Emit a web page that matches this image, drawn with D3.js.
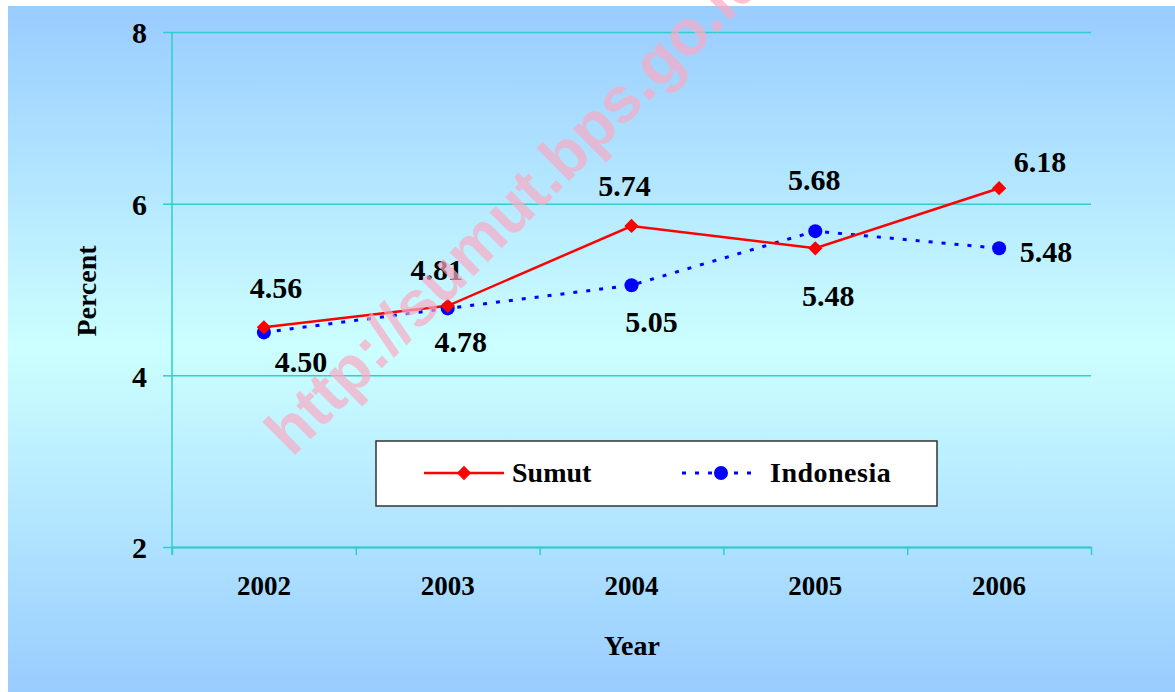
<!DOCTYPE html>
<html>
<head>
<meta charset="utf-8">
<script src="https://cdn.jsdelivr.net/npm/d3@7"></script>
<style>
  body { margin: 0; background: #fff; }
  text { font-family: "Liberation Serif", "Times New Roman", serif; font-weight: bold; }
</style>
</head>
<body>
<div id="chart"></div>
<script>
// data
var years = ["2002", "2003", "2004", "2005", "2006"];
var sumut = [4.56, 4.81, 5.74, 5.48, 6.18];
var indonesia = [4.50, 4.78, 5.05, 5.68, 5.48];
var yTicks = [2, 4, 6, 8];

// label placement relative to each point (dx, dy to baseline)
var sumutLabelPos = [[12, -29], [-11, -26], [-7, -30], [13, 58], [41, -16]];
var indoLabelPos = [[37, 40], [13, 44], [20, 47], [-1, -41], [47, 14]];

var svgWidth = 1175, svgHeight = 692;
var plotLeft = 172, plotRight = 1091, plotTop = 32, plotBottom = 547;

var svg = d3.select("#chart")
  .append("svg")
    .attr("width", svgWidth)
    .attr("height", svgHeight);

// background gradient
var grad = svg.append("defs").append("linearGradient")
  .attr("id", "bg").attr("x1", 0).attr("y1", 0).attr("x2", 0).attr("y2", 1);
grad.append("stop").attr("offset", "0%").attr("stop-color", "#99CCFF");
grad.append("stop").attr("offset", "50%").attr("stop-color", "#CCFFFF");
grad.append("stop").attr("offset", "100%").attr("stop-color", "#99CCFF");

svg.append("rect")
  .attr("x", 8).attr("y", 6)
  .attr("width", svgWidth - 8).attr("height", svgHeight - 6)
  .style("fill", "url(#bg)");

var x = d3.scaleBand().domain(years).range([plotLeft, plotRight]);
var xEdge = d3.scaleLinear().domain([0, years.length]).range([plotLeft, plotRight]);
var y = d3.scaleLinear().domain([2, 8]).range([plotBottom, plotTop]);

var axisColor = "#33CCCC";

// horizontal gridlines
var grid = svg.append("g")
  .attr("transform", "translate(" + plotLeft + ",0)")
  .call(d3.axisLeft(y).tickValues(yTicks).tickSize(-(plotRight - plotLeft)).tickFormat(""));
grid.select(".domain").remove();
grid.selectAll("line").style("stroke", axisColor).style("stroke-width", 1.5);

// y axis
var yAxis = svg.append("g")
  .attr("transform", "translate(" + plotLeft + ",0)")
  .call(d3.axisLeft(y).tickValues(yTicks).tickFormat(d3.format("d"))
    .tickSize(9).tickPadding(16).tickSizeOuter(0));
yAxis.select(".domain").style("stroke", axisColor).style("stroke-width", 1.5)
  .attr("d", "M0," + plotTop + "V" + (plotBottom + 8));
yAxis.selectAll("line").style("stroke", axisColor).style("stroke-width", 1.5);
yAxis.selectAll("text")
  .style("font-size", "30px")
  .style("fill", "#000")
  .attr("dy", "0.36em");

// x axis: tick marks at category edges
var xTickAxis = svg.append("g")
  .attr("transform", "translate(0," + plotBottom + ")")
  .call(d3.axisBottom(xEdge).tickValues(d3.range(years.length + 1)).tickSize(8).tickSizeOuter(0).tickFormat(""));
xTickAxis.select(".domain").style("stroke", axisColor).style("stroke-width", 2);
xTickAxis.selectAll("line").style("stroke", axisColor).style("stroke-width", 1.5);

// x labels
var xAxis = svg.append("g")
  .attr("transform", "translate(0," + plotBottom + ")")
  .call(d3.axisBottom(x).tickSize(0).tickPadding(48));
xAxis.select(".domain").remove();
xAxis.selectAll("text")
  .style("font-size", "27px")
  .style("fill", "#000")
  .attr("dy", "0");

// axis titles
svg.append("text")
  .attr("x", 632).attr("y", 655)
  .attr("text-anchor", "middle")
  .style("font-size", "28px")
  .text("Year");

svg.append("text")
  .attr("transform", "translate(96,291) rotate(-90)")
  .attr("text-anchor", "middle")
  .style("font-size", "28px")
  .text("Percent");

// lines
var line = d3.line()
  .x(function(d, i) { return x(years[i]) + x.bandwidth() / 2; })
  .y(function(d) { return y(d); });

svg.append("path")
  .datum(indonesia)
  .attr("d", line)
  .style("fill", "none")
  .style("stroke", "#0000FF")
  .style("stroke-width", 3)
  .style("stroke-dasharray", "4,9");

svg.append("path")
  .datum(sumut)
  .attr("d", line)
  .style("fill", "none")
  .style("stroke", "#FF0000")
  .style("stroke-width", 2.5);

// markers
var diamond = d3.symbol().type(d3.symbolDiamond2).size(130);

svg.selectAll(".dot")
  .data(indonesia)
  .enter()
  .append("circle")
  .attr("cx", function(d, i) { return x(years[i]) + x.bandwidth() / 2; })
  .attr("cy", function(d) { return y(d); })
  .attr("r", 7)
  .style("fill", "#0000FF");

svg.selectAll(".diamond")
  .data(sumut)
  .enter()
  .append("path")
  .attr("d", diamond)
  .attr("transform", function(d, i) {
    return "translate(" + (x(years[i]) + x.bandwidth() / 2) + "," + y(d) + ")";
  })
  .style("fill", "#FF0000");

// value labels
function drawLabels(values, pos) {
  svg.selectAll()
    .data(values)
    .enter()
    .append("text")
    .attr("x", function(d, i) { return x(years[i]) + x.bandwidth() / 2 + pos[i][0]; })
    .attr("y", function(d, i) { return y(d) + pos[i][1]; })
    .attr("text-anchor", "middle")
    .style("font-size", "30px")
    .style("fill", "#000")
    .text(function(d) { return d.toFixed(2); });
}
drawLabels(sumut, sumutLabelPos);
drawLabels(indonesia, indoLabelPos);

// legend
var legend = svg.append("g");
legend.append("rect")
  .attr("x", 376).attr("y", 441)
  .attr("width", 561).attr("height", 65)
  .style("fill", "#fff")
  .style("stroke", "#333")
  .style("stroke-width", 1.5);

legend.append("line")
  .attr("x1", 424).attr("x2", 504).attr("y1", 473).attr("y2", 473)
  .style("stroke", "#FF0000").style("stroke-width", 2.5);
legend.append("path")
  .attr("d", diamond)
  .attr("transform", "translate(464,473)")
  .style("fill", "#FF0000");
legend.append("text")
  .attr("x", 512).attr("y", 482)
  .style("font-size", "28px")
  .text("Sumut");

legend.append("line")
  .attr("x1", 682).attr("x2", 758).attr("y1", 473).attr("y2", 473)
  .style("stroke", "#0000FF").style("stroke-width", 3)
  .style("stroke-dasharray", "4,9");
legend.append("circle")
  .attr("cx", 721).attr("cy", 473).attr("r", 7)
  .style("fill", "#0000FF");
legend.append("text")
  .attr("x", 770).attr("y", 482)
  .style("font-size", "28px")
  .style("letter-spacing", "0.5px")
  .text("Indonesia");

// watermark
svg.append("text")
  .attr("transform", "translate(292,458) rotate(-45)")
  .style("font-family", "'Liberation Sans', Arial, sans-serif")
  .style("font-weight", "bold")
  .style("font-size", "64px")
  .style("fill", "rgb(250,170,195)")
  .style("fill-opacity", 0.7)
  .text("http://sumut.bps.go.id");
</script>
</body>
</html>
